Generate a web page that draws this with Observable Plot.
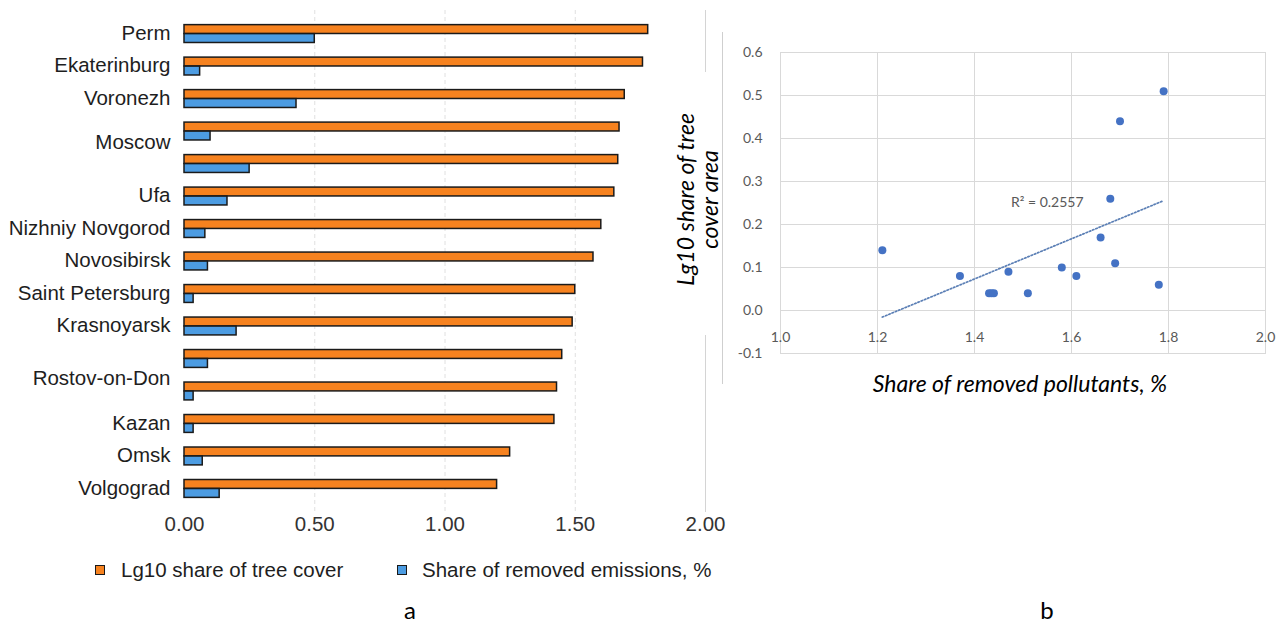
<!DOCTYPE html>
<html><head><meta charset="utf-8">
<script src="https://cdn.jsdelivr.net/npm/d3@7"></script>
<script src="https://cdn.jsdelivr.net/npm/@observablehq/plot@0.6"></script>
<style>
body{margin:0;background:#fff;}
#page{position:relative;width:1278px;height:623px;overflow:hidden;background:#fff;font-family:"Liberation Sans",Arial,sans-serif;}
.abs{position:absolute;}
</style></head><body><div id="page"></div>
<script>
// ---- data: panel a ----
// 15 bar pairs (top to bottom); the source figure prints 13 city labels, two of them between pairs
const barLabels = ["Perm","Ekaterinburg","Voronezh","Moscow","","Ufa","Nizhniy Novgorod","Novosibirsk","Saint Petersburg","Krasnoyarsk","Rostov-on-Don","","Kazan","Omsk","Volgograd"];
const treeCover = [1.78,1.76,1.69,1.67,1.665,1.65,1.60,1.57,1.50,1.49,1.45,1.43,1.42,1.25,1.20];
const removedEmissions = [0.50,0.06,0.43,0.10,0.25,0.165,0.08,0.09,0.035,0.20,0.09,0.035,0.035,0.07,0.135];
const xTicksA = [0, 0.5, 1, 1.5, 2];
const seriesNames = ["Lg10 share of tree cover", "Share of removed emissions, %"];
const seriesColors = ["#F6821F", "#4C9CE2"];

// ---- data: panel b ----
const scatterX = [1.21,1.37,1.43,1.435,1.44,1.47,1.51,1.58,1.61,1.66,1.68,1.69,1.70,1.78,1.79];
const scatterY = [0.14,0.08,0.04,0.04,0.04,0.09,0.04,0.10,0.08,0.17,0.26,0.11,0.44,0.06,0.51];
const r2Note = [{x: 1.55, y: 0.25, text: "R² = 0.2557"}];
const xTicksB = [1.0, 1.2, 1.4, 1.6, 1.8, 2.0];
const yTicksB = [-0.1, 0, 0.1, 0.2, 0.3, 0.4, 0.5, 0.6];

const rows = treeCover.map((v, i) => ({key: i, tree: v, removed: removedEmissions[i]}));
const pts = scatterX.map((x, i) => ({x, y: scatterY[i]}));

const page = document.getElementById("page");
const FONT_A = "'Liberation Sans', Arial, sans-serif";

const plainKeys = rows.map(d => d.key).filter(k => barLabels[k] && k !== 3 && k !== 10);
const axisOpts = {tickSize: 0, tickPadding: 14, tickFormat: k => barLabels[k], fontSize: 20.5, label: null};

const left = Plot.plot({
  width: 720, height: 540,
  marginLeft: 184, marginRight: 15, marginTop: 10, marginBottom: 28,
  style: {fontFamily: FONT_A, fontSize: "20.5px", color: "#1e1e1e", background: "transparent", overflow: "visible"},
  x: {domain: [0, 2], label: null},
  y: {domain: rows.map(d => d.key), padding: 0.45, round: false, label: null},
  marks: [
    Plot.ruleX([0.5, 1, 1.5], {stroke: "#e0e0e0", strokeDasharray: "4,3"}),
    Plot.ruleX([2], {stroke: "#d4d4d4"}),
    Plot.barX(rows, {x: "tree", y: "key", fill: seriesColors[0], stroke: "#1a1a1a", strokeWidth: 1.5, insetBottom: 9}),
    Plot.barX(rows, {x: "removed", y: "key", fill: seriesColors[1], stroke: "#1a1a1a", strokeWidth: 1.5, insetTop: 9}),
    Plot.axisX(xTicksA, {tickSize: 0, tickPadding: 4, tickFormat: d => d.toFixed(2), color: "#333", fontSize: 20.5, label: null}),
    Plot.axisY(plainKeys, {...axisOpts, dy: -1}),
    Plot.axisY([3], {...axisOpts, dy: 11}),
    Plot.axisY([10], {...axisOpts, dy: 19})
  ]
});
left.style.position = "absolute"; left.style.left = "0px"; left.style.top = "0px";
page.appendChild(left);

// legend
const legendX = [[100, 121], [402, 422]];
seriesNames.forEach((name, i) => {
  const m = document.createElement("div");
  m.className = "abs";
  Object.assign(m.style, {left: (legendX[i][0] - 5) + "px", top: "565px", width: "8px", height: "8px", background: seriesColors[i], border: "1.5px solid #1a1a1a"});
  page.appendChild(m);
  const t = document.createElement("div");
  t.className = "abs";
  Object.assign(t.style, {left: legendX[i][1] + "px", top: "558px", fontFamily: FONT_A, fontSize: "20.5px", lineHeight: "24px", color: "#1e1e1e", whiteSpace: "nowrap"});
  t.textContent = name;
  page.appendChild(t);
});

const right = Plot.plot({
  width: 588, height: 400,
  marginLeft: 90, marginRight: 13, marginTop: 52, marginBottom: 47,
  style: {fontFamily: "Lato, 'Open Sans', sans-serif", fontSize: "14px", color: "#595959", background: "transparent", overflow: "visible"},
  x: {domain: [1, 2], label: null},
  y: {domain: [-0.1, 0.6], label: null},
  marks: [
    Plot.gridX(xTicksB, {stroke: "#d9d9d9", strokeOpacity: 1}),
    Plot.gridY(yTicksB, {stroke: "#d9d9d9", strokeOpacity: 1}),
    Plot.frame({stroke: "#d9d9d9"}),
    Plot.linearRegressionY(pts, {x: "x", y: "y", ci: 0, stroke: "#5b7fb5", strokeWidth: 1.7, strokeDasharray: "1.5,2"}),
    Plot.dot(pts, {x: "x", y: "y", r: 4, fill: "#4472C4"}),
    Plot.text(r2Note, {x: "x", y: "y", text: "text", fill: "#595959", fontSize: 14}),
    Plot.axisX(xTicksB, {tickSize: 0, dy: -30, tickFormat: d => d.toFixed(1), fontSize: 14, label: null}),
    Plot.axisY(yTicksB, {tickSize: 0, tickPadding: 18, tickFormat: d => d.toFixed(1), fontSize: 14, label: null})
  ]
});
right.style.position = "absolute"; right.style.left = "690px"; right.style.top = "0px";
page.appendChild(right);

// y title of panel b (white box)
const yt = document.createElement("div");
yt.className = "abs";
Object.assign(yt.style, {left: "672px", top: "72px", width: "50px", height: "263px", background: "#fff", display: "flex", alignItems: "center", justifyContent: "center"});
const ytIn = document.createElement("div");
Object.assign(ytIn.style, {writingMode: "vertical-rl", transform: "rotate(180deg)", fontFamily: "Lato, sans-serif", fontStyle: "italic", fontSize: "23px", lineHeight: "24px", textAlign: "center", color: "#000", whiteSpace: "nowrap", marginTop: "-8px"});
ytIn.innerHTML = "Lg10 share of tree<br>cover area";
yt.appendChild(ytIn);
page.appendChild(yt);

const vl = document.createElement("div");
vl.className = "abs";
Object.assign(vl.style, {left: "722px", top: "32px", width: "1px", height: "352px", background: "#cfcfcf"});
page.appendChild(vl);

// x title of panel b
const xt = document.createElement("div");
xt.className = "abs";
Object.assign(xt.style, {left: "770px", top: "369px", width: "500px", textAlign: "center", fontFamily: "Lato, sans-serif", fontStyle: "italic", fontSize: "23px", lineHeight: "28px", color: "#000"});
xt.textContent = "Share of removed pollutants, %";
page.appendChild(xt);

// panel letters
[["a", 410], ["b", 1047]].forEach(([s, x]) => {
  const d = document.createElement("div");
  d.className = "abs";
  Object.assign(d.style, {left: (x - 20) + "px", top: "596px", width: "40px", textAlign: "center", fontFamily: "Lato, sans-serif", fontSize: "24px", lineHeight: "28px", color: "#000"});
  d.textContent = s;
  page.appendChild(d);
});
</script></body></html>
